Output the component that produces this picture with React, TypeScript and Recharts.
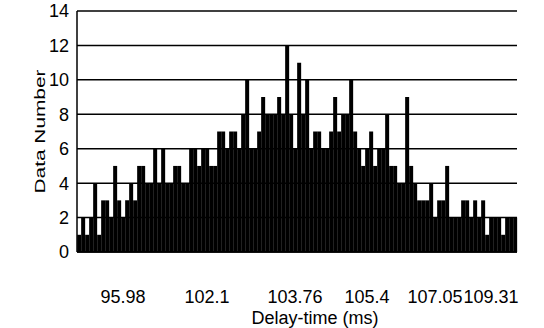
import { Bar, BarChart, CartesianGrid, XAxis, YAxis } from "recharts";

// number of measurements falling into each delay-time bin, left to right
const COUNTS = [
  1, 2, 1, 2, 4, 1, 3, 3, 2, 5,
  3, 2, 3, 4, 3, 5, 5, 4, 4, 6,
  4, 6, 4, 4, 5, 5, 4, 4, 6, 6,
  5, 6, 6, 5, 5, 7, 7, 6, 7, 7,
  6, 8, 10, 6, 6, 7, 9, 8, 8, 8,
  9, 8, 12, 8, 6, 11, 8, 10, 6, 7,
  7, 6, 6, 7, 9, 7, 8, 8, 10, 7,
  6, 5, 6, 7, 5, 6, 6, 8, 5, 5,
  4, 4, 9, 5, 4, 3, 3, 3, 4, 2,
  3, 3, 5, 2, 2, 2, 3, 3, 2, 3,
  2, 3, 1, 2, 2, 2, 1, 2, 2, 2,
];

// bins that carry a delay-time label, and the labels themselves
const TICK_BINS = [11, 32, 54, 72, 89, 103];
const TICK_LABELS = ["95.98", "102.1", "103.76", "105.4", "107.05", "109.31"];

const Y_TICKS = [0, 2, 4, 6, 8, 10, 12, 14];

const FONT = "'Liberation Sans', Arial, sans-serif";

const data = COUNTS.map((n, i) => ({ bin: i, n }));

function YTitle({ viewBox }: any) {
  const cy = viewBox.y + viewBox.height / 2;
  const cx = 39;
  return (
    <text
      x={cx}
      y={cy}
      transform={`rotate(-90 ${cx} ${cy})`}
      textAnchor="middle"
      dominantBaseline="central"
      fontSize={15}
      fontFamily={FONT}
      fill="#000"
      textLength={124}
      lengthAdjust="spacingAndGlyphs"
    >
      Data Number
    </text>
  );
}

export default function App() {
  return (
    <div style={{ position: "absolute", left: 0, top: 0, background: "#fff" }}>
      <BarChart
        width={544}
        height={328}
        data={data}
        margin={{ top: 11, right: 27, left: 25, bottom: 0 }}
        barCategoryGap={0.15}
      >
        <CartesianGrid yAxisId="l" horizontal vertical={false} stroke="#000" strokeWidth={1.5} />
        <XAxis
          dataKey="bin"
          type="category"
          ticks={TICK_BINS}
          interval={0}
          tickFormatter={(v) => TICK_LABELS[TICK_BINS.indexOf(Number(v))] ?? ""}
          tickLine={false}
          tickSize={0}
          tickMargin={38}
          height={76}
          axisLine={{ stroke: "#000", strokeWidth: 1.5 }}
          tick={{ fill: "#000", fontSize: 18, fontFamily: FONT }}
          label={{ value: "Delay-time (ms)", position: "insideBottom", offset: 4, dx: 18, fill: "#000", fontSize: 18, fontFamily: FONT }}
        />
        <YAxis
          yAxisId="l"
          domain={[0, 14]}
          ticks={Y_TICKS}
          interval={0}
          width={52}
          tickLine={false}
          tickSize={0}
          tickMargin={8}
          axisLine={{ stroke: "#000", strokeWidth: 1.5 }}
          tick={{ fill: "#000", fontSize: 18, fontFamily: FONT }}
          label={<YTitle />}
        />
        <YAxis
          yAxisId="r"
          orientation="right"
          domain={[0, 14]}
          width={0}
          tick={false}
          tickLine={false}
          axisLine={{ stroke: "#000", strokeWidth: 1.5 }}
        />
        <Bar yAxisId="l" dataKey="n" fill="#000" isAnimationActive={false} />
      </BarChart>
    </div>
  );
}
